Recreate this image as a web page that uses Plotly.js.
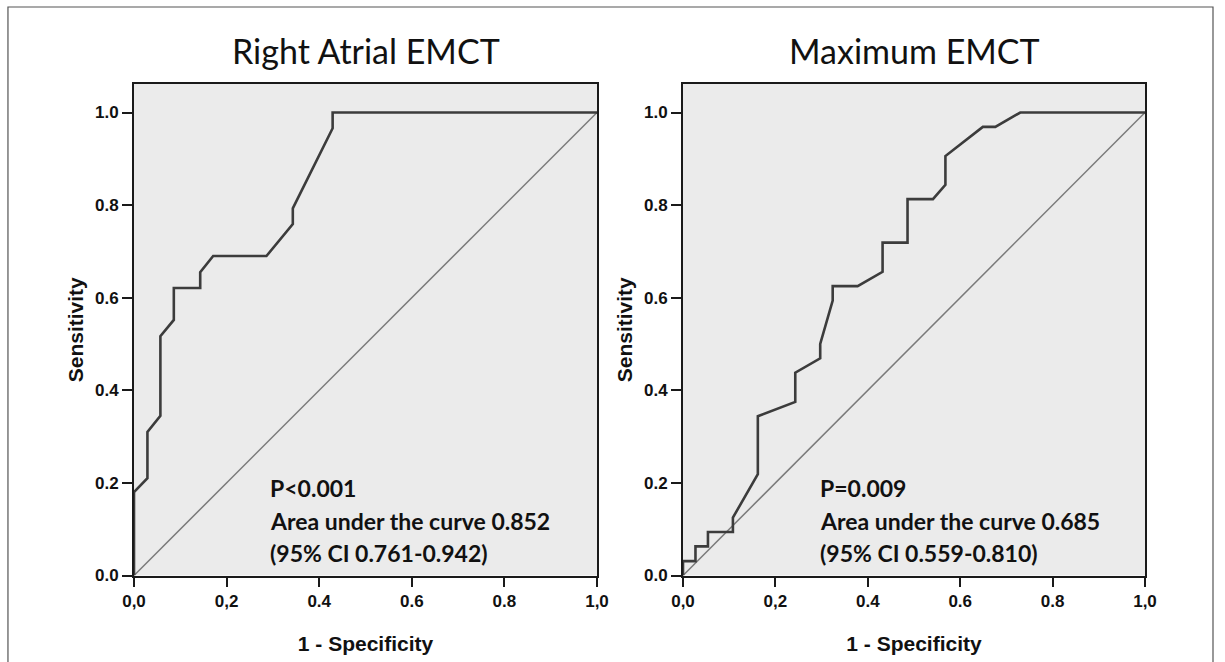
<!DOCTYPE html>
<html>
<head>
<meta charset="utf-8">
<script src="https://cdn.plot.ly/plotly-3.0.1.min.js"></script>
<style>html,body{margin:0;padding:0;background:#fff;}#chart{width:1225px;height:662px;}</style>
</head>
<body>
<div id="chart"></div>
<script>
// Panel titles
const panelTitles = ["Right Atrial EMCT", "Maximum EMCT"];
// ROC curve 1: Right Atrial EMCT
const roc1Fpr = [0, 0, 0.029, 0.029, 0.057, 0.057, 0.086, 0.086, 0.143, 0.143, 0.171, 0.286, 0.343, 0.343, 0.429, 0.429, 1.0];
const roc1Tpr = [0, 0.18, 0.21, 0.31, 0.345, 0.517, 0.552, 0.621, 0.621, 0.655, 0.69, 0.69, 0.759, 0.793, 0.966, 1.0, 1.0];
// ROC curve 2: Maximum EMCT
const roc2Fpr = [0, 0, 0.027, 0.027, 0.054, 0.054, 0.108, 0.108, 0.162, 0.162, 0.243, 0.243, 0.297, 0.297, 0.324, 0.324, 0.378, 0.432, 0.432, 0.486, 0.486, 0.541, 0.568, 0.568, 0.649, 0.676, 0.730, 1.0];
const roc2Tpr = [0, 0.031, 0.031, 0.063, 0.063, 0.094, 0.094, 0.125, 0.219, 0.344, 0.375, 0.438, 0.469, 0.5, 0.594, 0.625, 0.625, 0.656, 0.719, 0.719, 0.813, 0.813, 0.844, 0.906, 0.969, 0.969, 1.0, 1.0];
// Reference diagonal
const refLine = [0, 1];
// Tick labels
const xTickVals = [0, 0.2, 0.4, 0.6, 0.8, 1.0];
const xTickText = ["0,0", "0,2", "0.4", "0.6", "0.8", "1,0"];
const yTickVals = [0, 0.2, 0.4, 0.6, 0.8, 1.0];
const yTickText = ["0.0", "0.2", "0.4", "0.6", "0.8", "1.0"];
// Annotation texts
const statText1 = ["P<0.001", "Area under the curve 0.852", "(95% CI 0.761-0.942)"];
const statText2 = ["P=0.009", "Area under the curve 0.685", "(95% CI 0.559-0.810)"];

const W = 1225, H = 662;
const curveStyle = {color: '#3c3c3c', width: 2.6};
const diagStyle = {color: '#7a7a7a', width: 1.5};

const traces = [
  {x: refLine, y: refLine, xaxis: 'x', yaxis: 'y', mode: 'lines', line: diagStyle, hoverinfo: 'skip'},
  {x: roc1Fpr, y: roc1Tpr, xaxis: 'x', yaxis: 'y', mode: 'lines', line: curveStyle},
  {x: refLine, y: refLine, xaxis: 'x2', yaxis: 'y2', mode: 'lines', line: diagStyle, hoverinfo: 'skip'},
  {x: roc2Fpr, y: roc2Tpr, xaxis: 'x2', yaxis: 'y2', mode: 'lines', line: curveStyle}
];

const tickFont = {family: 'Liberation Sans, Arial, sans-serif', size: 17, color: '#111', weight: 'bold'};
const axTitleFont = {family: 'Liberation Sans, Arial, sans-serif', size: 21, color: '#111', weight: 'bold'};

function xAxis(domain, anchor) {
  return {
    domain: domain, anchor: anchor, range: [0, 1], fixedrange: true,
    showgrid: false, zeroline: false,
    showline: true, mirror: true, linecolor: '#1a1a1a', linewidth: 2,
    ticks: 'outside', ticklen: 9, tickwidth: 2, tickcolor: '#1a1a1a',
    tickvals: xTickVals, ticktext: xTickText, tickfont: tickFont,
    title: {text: '1 - Specificity', font: axTitleFont, standoff: 26}
  };
}
function yAxis(domain, anchor) {
  return {
    domain: domain, anchor: anchor, range: [0, 1.0616], fixedrange: true,
    showgrid: false, zeroline: false,
    showline: true, mirror: true, linecolor: '#1a1a1a', linewidth: 2,
    ticks: 'outside', ticklen: 10, tickwidth: 2, tickcolor: '#1a1a1a',
    tickvals: yTickVals, ticktext: yTickText, tickfont: tickFont,
    title: {text: 'Sensitivity', font: axTitleFont, standoff: 6}
  };
}

const yDom = [(H - 575.5) / H, (H - 84) / H];
const x1Dom = [134 / W, 597 / W];
const x2Dom = [683 / W, 1145 / W];

const titleFont = {family: 'Lato, Noto Sans, sans-serif', size: 34, color: '#111'};
const statFont = {family: 'Lato, Noto Sans, sans-serif', size: 23, color: '#111', weight: 'bold'};

const annotations = [
  {text: panelTitles[0], xref: 'paper', yref: 'paper', x: (x1Dom[0] + x1Dom[1]) / 2, y: 1 - 50 / H, xanchor: 'center', yanchor: 'middle', showarrow: false, font: titleFont},
  {text: panelTitles[1], xref: 'paper', yref: 'paper', x: (x2Dom[0] + x2Dom[1]) / 2, y: 1 - 50 / H, xanchor: 'center', yanchor: 'middle', showarrow: false, font: titleFont}
];
statText1.forEach((t, i) => annotations.push({text: t, xref: 'paper', yref: 'paper', x: 268 / W, y: 1 - (488 + i * 32.5) / H, xanchor: 'left', yanchor: 'middle', showarrow: false, font: statFont}));
statText2.forEach((t, i) => annotations.push({text: t, xref: 'paper', yref: 'paper', x: 818 / W, y: 1 - (488 + i * 32.5) / H, xanchor: 'left', yanchor: 'middle', showarrow: false, font: statFont}));

const layout = {
  width: W, height: H,
  margin: {l: 0, r: 0, t: 0, b: 0},
  paper_bgcolor: '#ffffff', plot_bgcolor: '#ebebeb',
  showlegend: false,
  xaxis: xAxis(x1Dom, 'y'),
  yaxis: yAxis(yDom, 'x'),
  xaxis2: xAxis(x2Dom, 'y2'),
  yaxis2: yAxis(yDom, 'x2'),
  annotations: annotations,
  shapes: [
    {type: 'path', xref: 'paper', yref: 'paper', path: 'M 0.0065,-0.02 L 0.0065,' + (1 - 7 / H) + ' L ' + (1213 / W) + ',' + (1 - 7 / H) + ' L ' + (1213 / W) + ',-0.02', line: {color: '#555', width: 1.2}}
  ]
};

Plotly.newPlot('chart', traces, layout, {displayModeBar: false, staticPlot: true});
</script>
</body>
</html>
